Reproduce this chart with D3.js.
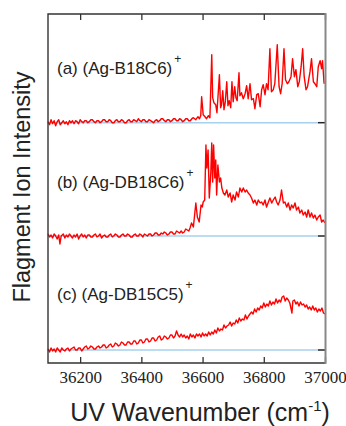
<!DOCTYPE html>
<html><head><meta charset="utf-8">
<script src="https://cdn.jsdelivr.net/npm/d3@7"></script>
<style>body{margin:0;background:#fff}</style></head>
<body>
<svg id="chart" width="346" height="426"></svg>
<script>
// spectrum (a) (Ag-B18C6)+ : [wavenumber cm-1, intensity (arb.)]
const specA = [[36095,1],[36100,-2],[36105,3],[36110,-1],[36115,2],[36120,-3],[36125,1],[36130,3],[36135,-2],[36140,0],[36145,2],[36150,-1],[36155,1],[36160,-2],[36165,2],[36170,0],[36175,2],[36180,-1],[36185,2],[36190,1],[36195,-1],[36200,3],[36205,1],[36210,0],[36215,2],[36220,2],[36225,0],[36230,1],[36235,3],[36240,3],[36245,1],[36250,0],[36255,2],[36260,2],[36265,0],[36270,1],[36275,3],[36280,3],[36285,1],[36290,1],[36295,3],[36300,2],[36305,0],[36310,0],[36315,2],[36320,3],[36325,1],[36330,1],[36335,3],[36340,2],[36345,0],[36350,0],[36355,2],[36360,3],[36365,1],[36370,1],[36375,3],[36380,2],[36385,1],[36390,4],[36395,2],[36400,1],[36405,3],[36410,3],[36415,1],[36420,1],[36425,3],[36430,2],[36435,1],[36440,0],[36445,2],[36450,3],[36455,1],[36460,2],[36465,4],[36470,4],[36475,2],[36480,1],[36485,3],[36490,3],[36495,1],[36500,2],[36505,4],[36510,4],[36515,2],[36520,2],[36525,4],[36530,3],[36535,1],[36540,2],[36545,4],[36550,4],[36555,2],[36560,2],[36565,4],[36570,5],[36578,3],[36585,6],[36590,4],[36594,7],[36597,26],[36602,8],[36608,6],[36613,4],[36619,7],[36624,5],[36630,68],[36633,25],[36637,20],[36643,18],[36647,10],[36655,48],[36659,15],[36662,18],[36666,32],[36670,13],[36674,20],[36679,41],[36683,17],[36687,22],[36692,15],[36696,41],[36700,21],[36705,36],[36709,25],[36713,22],[36719,50],[36722,27],[36727,30],[36733,24],[36739,29],[36744,37],[36749,24],[36755,39],[36760,23],[36766,24],[36771,14],[36777,28],[36782,29],[36788,16],[36793,33],[36798,38],[36804,28],[36809,39],[36814,33],[36820,74],[36825,31],[36831,33],[36836,39],[36844,78],[36850,36],[36855,29],[36860,39],[36866,74],[36871,43],[36877,39],[36882,41],[36889,46],[36894,64],[36900,46],[36905,53],[36911,36],[36916,41],[36922,56],[36927,74],[36932,46],[36938,33],[36943,36],[36951,51],[36956,64],[36962,41],[36967,39],[36973,36],[36978,56],[36984,62],[36989,54],[36992,62],[36997,39]];

// spectrum (b) (Ag-DB18C6)+
const specB = [[36095,2],[36100,-1],[36105,1],[36110,-2],[36115,2],[36120,0],[36125,-3],[36130,1],[36134,-8],[36138,0],[36145,2],[36150,-2],[36155,1],[36160,-1],[36165,2],[36170,0],[36175,-2],[36180,1],[36185,-1],[36190,2],[36195,-3],[36200,0],[36205,2],[36210,-1],[36215,1],[36220,-2],[36225,1],[36230,1],[36235,-1],[36240,-1],[36245,1],[36250,2],[36255,-1],[36260,0],[36265,2],[36270,-2],[36275,0],[36280,1],[36285,-1],[36290,-1],[36295,1],[36300,2],[36305,-1],[36310,0],[36315,2],[36320,1],[36325,-1],[36330,-1],[36335,1],[36340,2],[36345,0],[36350,0],[36355,2],[36360,1],[36365,-1],[36370,-1],[36375,1],[36380,2],[36385,0],[36390,0],[36395,2],[36400,1],[36405,-1],[36410,2],[36415,1],[36420,0],[36425,2],[36430,2],[36435,0],[36440,1],[36445,3],[36450,3],[36455,1],[36460,1],[36465,3],[36470,2],[36475,4],[36480,3],[36485,1],[36490,2],[36495,4],[36500,4],[36505,2],[36510,2],[36515,5],[36520,4],[36525,3],[36530,5],[36535,3],[36540,4],[36545,7],[36550,6],[36555,5],[36559,8],[36564,13],[36570,9],[36578,33],[36583,19],[36589,14],[36595,31],[36599,29],[36602,34],[36607,36],[36611,91],[36614,68],[36618,86],[36622,38],[36627,64],[36630,93],[36633,54],[36636,91],[36640,58],[36643,76],[36646,41],[36650,71],[36655,54],[36659,58],[36663,48],[36668,43],[36673,41],[36679,46],[36684,39],[36690,43],[36695,34],[36700,41],[36706,36],[36711,44],[36717,39],[36722,48],[36728,44],[36733,48],[36739,44],[36744,46],[36749,43],[36755,41],[36760,38],[36766,33],[36771,36],[36777,31],[36782,36],[36788,33],[36793,34],[36798,31],[36804,36],[36809,29],[36815,34],[36820,38],[36826,33],[36831,36],[36837,39],[36842,34],[36847,31],[36853,36],[36858,46],[36864,33],[36869,34],[36875,29],[36880,33],[36886,26],[36891,31],[36896,28],[36902,33],[36907,26],[36913,29],[36918,23],[36924,26],[36929,21],[36935,24],[36940,19],[36945,26],[36951,19],[36956,23],[36962,18],[36967,21],[36973,16],[36978,19],[36984,21],[36989,14],[36994,16],[37000,13]];

// spectrum (c) (Ag-DB15C5)+
const specC = [[36095,1],[36100,-2],[36105,2],[36110,-1],[36115,1],[36120,-2],[36125,2],[36130,0],[36135,-2],[36140,2],[36145,0],[36150,-1],[36155,1],[36160,2],[36165,-1],[36170,1],[36175,2],[36180,3],[36185,0],[36190,0],[36195,2],[36200,2],[36205,-1],[36210,1],[36215,3],[36220,4],[36225,1],[36230,2],[36235,4],[36240,3],[36245,1],[36250,1],[36255,3],[36260,4],[36265,2],[36270,3],[36275,5],[36280,5],[36285,2],[36290,3],[36295,5],[36300,6],[36305,3],[36310,4],[36315,7],[36320,6],[36325,4],[36330,5],[36335,8],[36340,7],[36345,5],[36350,5],[36355,8],[36360,8],[36365,6],[36370,6],[36375,9],[36380,9],[36385,6],[36390,7],[36395,10],[36400,10],[36405,7],[36410,8],[36415,11],[36420,11],[36425,8],[36430,9],[36435,12],[36440,12],[36445,9],[36450,10],[36455,13],[36460,14],[36465,10],[36470,11],[36475,14],[36480,13],[36485,11],[36490,12],[36495,15],[36500,15],[36505,12],[36510,14],[36515,19],[36520,15],[36525,13],[36530,16],[36535,13],[36540,15],[36545,12],[36550,14],[36555,11],[36560,16],[36565,13],[36570,15],[36575,12],[36580,16],[36585,14],[36590,16],[36595,13],[36600,17],[36605,14],[36610,16],[36615,14],[36620,18],[36625,15],[36630,18],[36635,16],[36640,20],[36645,17],[36650,22],[36655,19],[36660,21],[36665,20],[36670,25],[36675,22],[36680,24],[36685,25],[36690,28],[36695,24],[36700,27],[36705,26],[36710,30],[36715,27],[36720,32],[36725,29],[36730,31],[36735,30],[36740,35],[36745,31],[36750,34],[36755,36],[36760,38],[36765,36],[36770,41],[36775,38],[36780,42],[36785,40],[36790,44],[36795,42],[36800,47],[36805,43],[36810,46],[36815,44],[36820,49],[36825,45],[36830,48],[36835,46],[36840,51],[36845,47],[36850,50],[36855,48],[36860,53],[36865,54],[36870,49],[36875,52],[36880,50],[36885,47],[36890,40],[36892,37],[36895,49],[36900,50],[36905,46],[36910,48],[36915,44],[36920,48],[36925,45],[36930,46],[36935,43],[36940,45],[36945,41],[36950,43],[36955,40],[36960,44],[36965,40],[36970,42],[36975,38],[36980,41],[36985,39],[36990,42],[36995,37],[37000,36]];

const tickValues = [36200, 36400, 36600, 36800, 37000];
const panelNames = ["(a) (Ag-B18C6)", "(b) (Ag-DB18C6)", "(c) (Ag-DB15C5)"];
const xTitle = "UV Wavenumber (cm";
const xTitleSup = "-1";
const yTitle = "Flagment Ion Intensity";

const svg = d3.select("#chart");
const L = 48, R = 325, T = 14, B = 363;
const x = d3.scaleLinear().domain([36095, 37000]).range([L, R]);

const panels = [
  {data: specA, base: 122.7, labelY: 74},
  {data: specB, base: 236, labelY: 187.5},
  {data: specC, base: 350, labelY: 299.5}
];

panels.forEach((p, i) => {
  const y = d3.scaleLinear().domain([0, 100]).range([p.base, p.base - 100]);
  svg.append("line").attr("x1", L).attr("x2", R - 7).attr("y1", y(0)).attr("y2", y(0))
    .attr("stroke", "#a6d0ee").attr("stroke-width", 1.5);
  svg.append("line").attr("x1", R - 7).attr("x2", R).attr("y1", y(0)).attr("y2", y(0))
    .attr("stroke", "#222").attr("stroke-width", 1.5);
  const line = d3.line().x(d => x(d[0])).y(d => y(d[1]));
  svg.append("path").datum(p.data).attr("d", line)
    .attr("fill", "none").attr("stroke", "#ff0000").attr("stroke-width", 1.4)
    .attr("stroke-linejoin", "round");
  const t = svg.append("text").attr("x", 57).attr("y", p.labelY)
    .attr("font-family", "Liberation Sans, Arial, sans-serif").attr("font-size", 17).attr("fill", "#222");
  t.append("tspan").text(panelNames[i]);
  t.append("tspan").attr("dx", 2).attr("dy", -11).attr("font-size", 12).text("+");
});

const axB = d3.axisBottom(x).tickValues(tickValues).tickSizeInner(-6).tickSizeOuter(0).tickPadding(8).tickFormat(d3.format("d"));
const gb = svg.append("g").attr("transform", `translate(0,${B})`).call(axB);
gb.select(".domain").remove();
gb.selectAll(".tick line").attr("stroke", "#333").attr("stroke-width", 1.3);
gb.selectAll(".tick text").attr("font-family", "Liberation Serif, Times New Roman, serif").attr("font-size", 17).attr("fill", "#222");

const axT = d3.axisTop(x).tickValues(tickValues).tickSizeInner(-6).tickSizeOuter(0).tickFormat("");
const gt = svg.append("g").attr("transform", `translate(0,${T})`).call(axT);
gt.select(".domain").remove();
gt.selectAll(".tick line").attr("stroke", "#333").attr("stroke-width", 1.3);

svg.append("path").attr("d", `M${R},${T}H${L}V${B}H${R}`).attr("fill", "none").attr("stroke", "#333").attr("stroke-width", 1.4);
svg.append("line").attr("x1", R + 0.5).attr("x2", R + 0.5).attr("y1", T - 1).attr("y2", B + 1).attr("stroke", "#888").attr("stroke-width", 2);

const xt = svg.append("text").attr("x", 200).attr("y", 421).attr("text-anchor", "middle")
  .attr("font-family", "Liberation Sans, Arial, sans-serif").attr("font-size", 25).attr("fill", "#222");
xt.append("tspan").text(xTitle);
xt.append("tspan").attr("dy", -10).attr("font-size", 15).text(xTitleSup);
xt.append("tspan").attr("dy", 10).text(")");

svg.append("text").attr("transform", "translate(30,187) rotate(-90)").attr("text-anchor", "middle")
  .attr("font-family", "Liberation Sans, Arial, sans-serif").attr("font-size", 23.5).attr("fill", "#222")
  .text(yTitle);
</script>
</body></html>
